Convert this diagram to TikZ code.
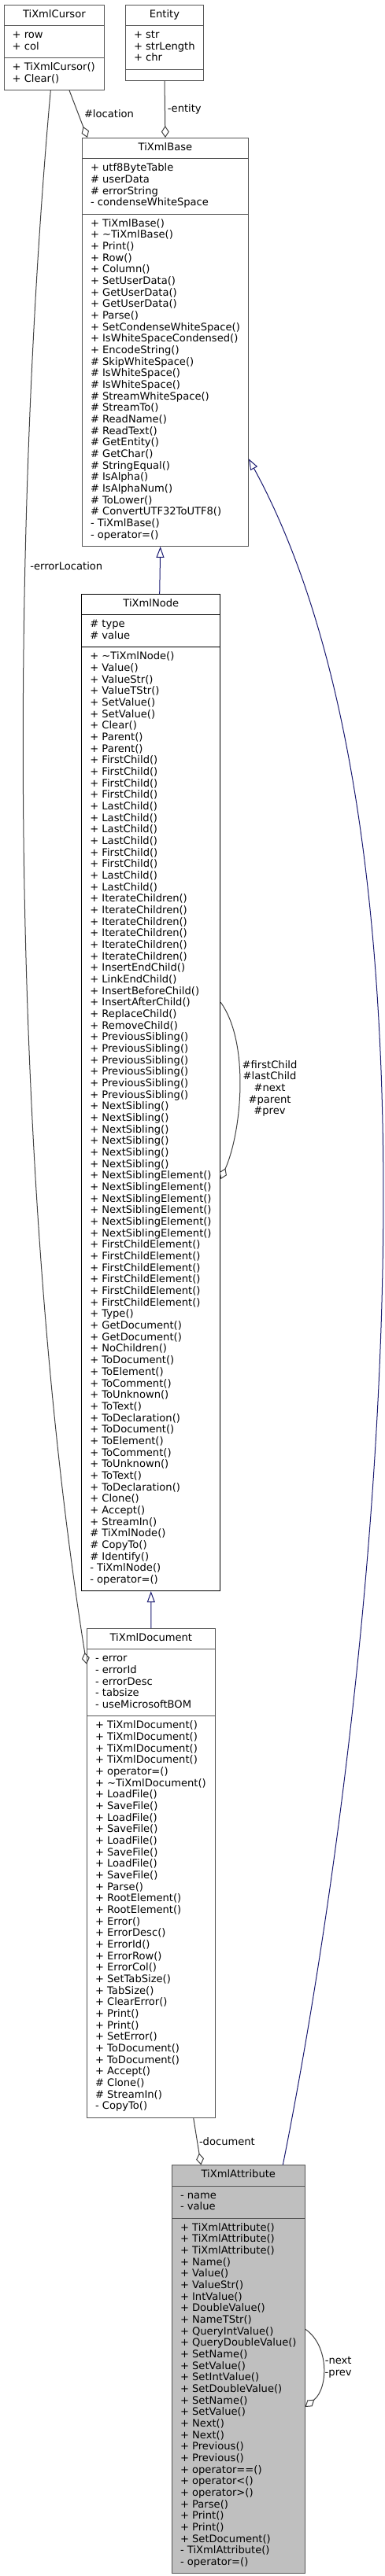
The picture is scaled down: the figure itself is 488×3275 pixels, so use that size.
\documentclass[tikz,border=0pt]{standalone}
\usepackage{fontspec}
\setmainfont{DejaVu Sans}
\usepackage{xcolor}
\usepackage{tikz}
\usetikzlibrary{shapes.multipart,arrows.meta}

\definecolor{boxgray}{HTML}{555555}
\definecolor{usegray}{HTML}{404040}
\definecolor{inheritblue}{HTML}{191970}
\definecolor{focalgray}{HTML}{BFBFBF}

% One column of class members, one row per line.
\newcommand{\members}[1]{\begin{tabular}{@{}l@{}}#1\end{tabular}}

\begin{document}
\begin{tikzpicture}[
  x=1pt,
  y=-1pt,
  every node/.style={font=\fontsize{13.1}{14.67}\selectfont},
  umlclass/.style={
    rectangle split, rectangle split parts=3,
    rectangle split part align={center,left,left},
    draw=boxgray, fill=white, line width=1pt,
    inner xsep=10.5pt, inner ysep=5.3pt, anchor=north west},
  usage/.style={draw=usegray, line width=1pt,
    -{Diamond[open, length=15pt, width=10pt]}},
  inherit/.style={draw=inheritblue, line width=1pt,
    -{Triangle[open, length=14pt, width=10pt]}},
  edgelabel/.style={inner sep=0pt, anchor=west},
]
\path[use as bounding box] (0,0) rectangle (488,3275);

% Classes.
\node[umlclass, minimum width=127.3pt] (cursor) at (4.7,5.7) {%
  \members{TiXmlCursor}%
  \nodepart{two}\members{+ row\\+ col}%
  \nodepart{three}\members{+ TiXmlCursor()\\+ Clear()}};

\node[umlclass, minimum width=99pt] (entity) at (159,5.7) {%
  \members{Entity}%
  \nodepart{two}\members{+ str\\+ strLength\\+ chr}%
  \nodepart{three}\members{}};

\node[umlclass, minimum width=209.3pt] (base) at (104,175) {%
  \members{TiXmlBase}%
  \nodepart{two}\members{+ utf8ByteTable\\\# userData\\\# errorString\\- condenseWhiteSpace}%
  \nodepart{three}\members{+ TiXmlBase()\\+ \textasciitilde{}TiXmlBase()\\+ Print()\\+ Row()\\
    + Column()\\+ SetUserData()\\+ GetUserData()\\+ GetUserData()\\+ Parse()\\
    + SetCondenseWhiteSpace()\\+ IsWhiteSpaceCondensed()\\+ EncodeString()\\
    \# SkipWhiteSpace()\\\# IsWhiteSpace()\\\# IsWhiteSpace()\\\# StreamWhiteSpace()\\
    \# StreamTo()\\\# ReadName()\\\# ReadText()\\\# GetEntity()\\\# GetChar()\\
    \# StringEqual()\\\# IsAlpha()\\\# IsAlphaNum()\\\# ToLower()\\
    \# ConvertUTF32ToUTF8()\\- TiXmlBase()\\- operator=()}};

\node[umlclass, draw=black, minimum width=176pt] (xnode) at (103.3,755) {%
  \members{TiXmlNode}%
  \nodepart{two}\members{\# type\\\# value}%
  \nodepart{three}\members{+ \textasciitilde{}TiXmlNode()\\+ Value()\\+ ValueStr()\\+ ValueTStr()\\
    + SetValue()\\+ SetValue()\\+ Clear()\\+ Parent()\\+ Parent()\\
    + FirstChild()\\+ FirstChild()\\+ FirstChild()\\+ FirstChild()\\
    + LastChild()\\+ LastChild()\\+ LastChild()\\+ LastChild()\\
    + FirstChild()\\+ FirstChild()\\+ LastChild()\\+ LastChild()\\
    + IterateChildren()\\+ IterateChildren()\\+ IterateChildren()\\
    + IterateChildren()\\+ IterateChildren()\\+ IterateChildren()\\
    + InsertEndChild()\\+ LinkEndChild()\\+ InsertBeforeChild()\\+ InsertAfterChild()\\
    + ReplaceChild()\\+ RemoveChild()\\
    + PreviousSibling()\\+ PreviousSibling()\\+ PreviousSibling()\\
    + PreviousSibling()\\+ PreviousSibling()\\+ PreviousSibling()\\
    + NextSibling()\\+ NextSibling()\\+ NextSibling()\\
    + NextSibling()\\+ NextSibling()\\+ NextSibling()\\
    + NextSiblingElement()\\+ NextSiblingElement()\\+ NextSiblingElement()\\
    + NextSiblingElement()\\+ NextSiblingElement()\\+ NextSiblingElement()\\
    + FirstChildElement()\\+ FirstChildElement()\\+ FirstChildElement()\\
    + FirstChildElement()\\+ FirstChildElement()\\+ FirstChildElement()\\
    + Type()\\+ GetDocument()\\+ GetDocument()\\+ NoChildren()\\
    + ToDocument()\\+ ToElement()\\+ ToComment()\\+ ToUnknown()\\+ ToText()\\+ ToDeclaration()\\
    + ToDocument()\\+ ToElement()\\+ ToComment()\\+ ToUnknown()\\+ ToText()\\+ ToDeclaration()\\
    + Clone()\\+ Accept()\\+ StreamIn()\\\# TiXmlNode()\\\# CopyTo()\\\# Identify()\\
    - TiXmlNode()\\- operator=()}};

\node[umlclass, minimum width=162.7pt] (doc) at (110,2070) {%
  \members{TiXmlDocument}%
  \nodepart{two}\members{- error\\- errorId\\- errorDesc\\- tabsize\\- useMicrosoftBOM}%
  \nodepart{three}\members{+ TiXmlDocument()\\+ TiXmlDocument()\\+ TiXmlDocument()\\+ TiXmlDocument()\\
    + operator=()\\+ \textasciitilde{}TiXmlDocument()\\
    + LoadFile()\\+ SaveFile()\\+ LoadFile()\\+ SaveFile()\\
    + LoadFile()\\+ SaveFile()\\+ LoadFile()\\+ SaveFile()\\
    + Parse()\\+ RootElement()\\+ RootElement()\\+ Error()\\+ ErrorDesc()\\+ ErrorId()\\
    + ErrorRow()\\+ ErrorCol()\\+ SetTabSize()\\+ TabSize()\\+ ClearError()\\
    + Print()\\+ Print()\\+ SetError()\\+ ToDocument()\\+ ToDocument()\\+ Accept()\\
    \# Clone()\\\# StreamIn()\\- CopyTo()}};

\node[umlclass, fill=focalgray, minimum width=168pt] (attr) at (218,2752.3) {%
  \members{TiXmlAttribute}%
  \nodepart{two}\members{- name\\- value}%
  \nodepart{three}\members{+ TiXmlAttribute()\\+ TiXmlAttribute()\\+ TiXmlAttribute()\\
    + Name()\\+ Value()\\+ ValueStr()\\+ IntValue()\\+ DoubleValue()\\+ NameTStr()\\
    + QueryIntValue()\\+ QueryDoubleValue()\\+ SetName()\\+ SetValue()\\
    + SetIntValue()\\+ SetDoubleValue()\\+ SetName()\\+ SetValue()\\
    + Next()\\+ Next()\\+ Previous()\\+ Previous()\\
    + operator==()\\+ operator<()\\+ operator>()\\+ Parse()\\+ Print()\\+ Print()\\
    + SetDocument()\\- TiXmlAttribute()\\- operator=()}};

% Inheritance.
\draw[inherit] ([xshift=99.4pt]xnode.north west) -- ([xshift=99.7pt]base.south west);
\draw[inherit] (doc.north) -- (xnode.south);
\draw[inherit] ([xshift=141.3pt]attr.north west)
  .. controls (464,2229) and (601,1106) .. ([yshift=-408.3pt]base.north east);

% Usage relations.
\draw[usage] ([xshift=83.3pt]cursor.south west) -- ([xshift=7pt]base.north west)
  node[edgelabel, midway, xshift=7pt] {\#location};
\draw[usage] (entity.south) -- (base.north)
  node[edgelabel, midway, xshift=3pt] {-entity};
\draw[usage] ([xshift=59.6pt]cursor.south west)
  .. controls (12,700) and (12,1500) .. ([yshift=-45.7pt]doc.north west)
  node[edgelabel, pos=0.315, xshift=6pt] {-errorLocation};
\draw[usage] ([yshift=-519.3pt]xnode.north east)
  .. controls (317.7,1326.3) and (306.7,1439.9) .. ([yshift=-744pt]xnode.north east)
  node[edgelabel, pos=0.5, xshift=3pt, align=center]
  {\#firstChild\\\#lastChild\\\#next\\\#parent\\\#prev};
\draw[usage] ([xshift=135.7pt]doc.south west) -- ([xshift=37.3pt]attr.north west)
  node[edgelabel, midway, xshift=2pt] {-document};
\draw[usage] ([yshift=-208.7pt]attr.north east)
  .. controls (418.4,2981.8) and (417.2,3036.5) .. ([yshift=-307.7pt]attr.north east)
  node[edgelabel, pos=0.5, xshift=2pt, align=center] {-next\\-prev};

\end{tikzpicture}
\end{document}
